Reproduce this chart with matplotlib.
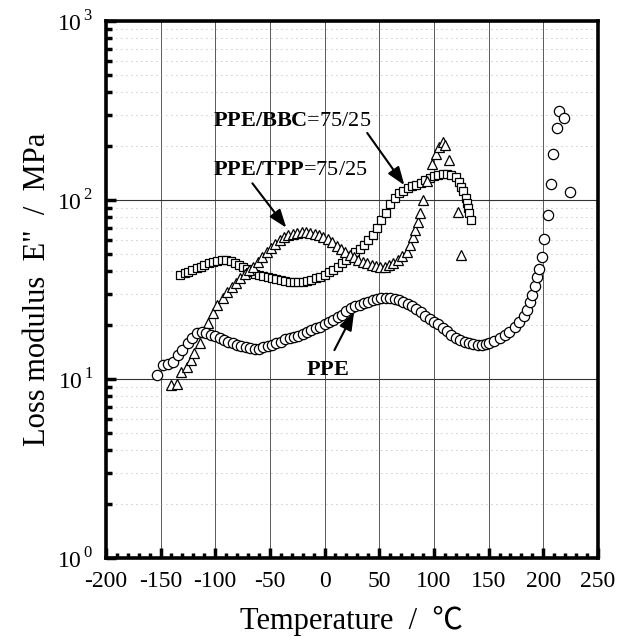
import numpy as np
import matplotlib
matplotlib.use('Agg')
import matplotlib.pyplot as plt
from matplotlib.ticker import FixedLocator, LogLocator, NullFormatter

plt.rcParams['font.family'] = ['Liberation Serif', 'Noto Sans CJK JP']
plt.rcParams['mathtext.fontset'] = 'custom'
plt.rcParams['mathtext.rm'] = 'Liberation Serif'
plt.rcParams['mathtext.bf'] = 'Liberation Serif:bold'
plt.rcParams['axes.unicode_minus'] = False

# PPE (open circles)
ppe_t = [-153, -148, -143, -139, -134, -130, -125, -121, -117, -112, -108, -104, -100,
         -96, -92, -88, -84, -80, -76, -72, -68, -64, -60, -56, -52, -48, -44, -40,
         -36, -32, -28, -24, -20, -16, -12, -8, -4, 0, 4, 8, 12, 16, 20, 24, 28, 32,
         36, 40, 44, 48, 52, 56, 60, 64, 68, 72, 76, 80, 84, 88, 92, 96, 100, 104,
         108, 112, 116, 120, 124, 128, 132, 136, 140, 144, 148, 150, 155, 160, 165,
         169, 174, 178, 182, 185, 188, 190, 192, 194, 196, 199, 201, 204, 207, 209,
         213, 214, 219, 224]
ppe_e = [10.5, 12.0, 12.2, 12.5, 13.6, 14.5, 15.9, 17.0, 18.1, 18.4, 18.0, 17.6, 17.3,
         17.0, 16.5, 16.1, 15.8, 15.5, 15.2, 15.0, 14.9, 14.8, 14.8, 15.0, 15.2, 15.5,
         15.8, 16.2, 16.7, 17.0, 17.2, 17.5, 17.9, 18.3, 18.7, 19.2, 19.6, 20.2, 20.8,
         21.4, 22.1, 22.9, 24.0, 24.8, 25.5, 26.0, 26.6, 27.1, 27.6, 28.0, 28.3, 28.4,
         28.4, 28.1, 27.6, 27.0, 26.3, 25.5, 24.5, 23.6, 22.6, 21.7, 20.8, 20.2, 19.3,
         18.5, 17.7, 17.0, 16.5, 16.1, 15.8, 15.6, 15.5, 15.5, 15.7, 15.9, 16.4, 17.0,
         17.6, 18.3, 19.6, 20.8, 22.5, 24.3, 26.8, 29.5, 33.0, 37.0, 41.0, 48.0, 60.5,
         82.0, 123, 181, 253, 314, 287, 111]

# PPE/TPP = 75/25 (open triangles)
tpp_t = [-140, -135, -131, -126, -122, -119, -114, -110, -107, -102, -98, -93, -89,
         -85, -81, -77, -73, -69, -65, -61, -57, -53, -49, -45, -41, -37, -33, -29,
         -25, -21, -17, -13, -9, -5, -1, 3, 7, 11, 15, 19, 23, 27, 31, 35, 39, 43, 47,
         51, 55, 59, 63, 67, 71, 75, 78, 81, 83, 85, 87, 90, 94, 98, 102, 105, 108,
         110, 114, 122, 125]
tpp_e = [9.3, 9.4, 10.9, 11.7, 12.8, 14.0, 15.9, 18.3, 20.6, 23.4, 25.9, 28.4, 30.6,
         32.5, 34.5, 36.5, 38.5, 40.5, 42.5, 45.0, 48.0, 51.0, 54.0, 57.0, 59.5, 62.0,
         64.0, 65.0, 65.5, 66.0, 66.0, 65.5, 64.8, 63.8, 62.5, 60.5, 58.0, 55.5, 53.0,
         51.0, 49.3, 47.8, 46.5, 45.3, 44.3, 43.5, 42.8, 42.5, 42.5, 43.2, 44.5, 46.3,
         48.5, 51.5, 56, 62, 68, 75, 85, 100, 128, 158, 180, 198, 210, 202, 168, 86, 49]

# PPE/BBC = 75/25 (open squares)
bbc_t = [-132, -128, -125, -121, -117, -113, -110, -106, -102, -98, -94, -90, -86,
         -82, -78, -75, -71, -68, -64, -60, -56, -52, -48, -44, -40, -36, -32, -28,
         -24, -20, -16, -12, -8, -4, 0, 4, 8, 12, 16, 20, 24, 28, 32, 36, 40, 44, 48,
         52, 56, 60, 64, 68, 72, 76, 80, 84, 88, 92, 96, 100, 104, 108, 112, 116, 120,
         123, 125, 127, 129, 130, 131, 132, 134]
bbc_e = [38.1, 39.0, 39.6, 40.5, 41.7, 42.5, 43.3, 44.2, 45.1, 45.8, 46.2, 46.0, 45.4,
         44.6, 43.4, 42.2, 41.0, 39.6, 38.8, 38.1, 37.6, 37.2, 36.8, 36.2, 35.7, 35.3,
         35.0, 34.8, 34.8, 35.0, 35.4, 35.9, 36.5, 37.1, 38.2, 39.5, 40.8, 42.5, 44.5,
         46.5, 48.5, 51.0, 53.5, 56.0, 59.5, 63.5, 69.5, 77.0, 85.0, 95.0, 103, 109,
         113, 116, 119, 122, 125, 129, 133, 136, 138, 139, 139, 138, 134, 126, 118,
         112, 103, 96, 90, 85, 77]

x_ticks = [-200, -150, -100, -50, 0, 50, 100, 150, 200, 250]
y_ticks = [1, 10, 100, 1000]
y_labels = ['$10^{\\,0}$', '$10^{\\,1}$', '$10^{\\,2}$', '$10^{\\,3}$']

fig = plt.figure(figsize=(6.19, 6.37), dpi=100)
ax = fig.add_axes([0.171, 0.124, 0.795, 0.843])

ax.set_yscale('log')
ax.set_xlim(-200, 250)
ax.set_ylim(1, 1000)

# grid
for t in x_ticks[1:-1]:
    ax.axvline(t, color='0.35', lw=0.7, zorder=0)
for v in [10, 100]:
    ax.axhline(v, color='0.2', lw=0.8, zorder=0)
ax.yaxis.set_minor_locator(LogLocator(base=10, subs=np.arange(2, 10)))
ax.grid(True, which='minor', axis='y', color='0.6', lw=0.6, ls=(0, (1, 5)), zorder=0)

mk = dict(mfc='white', mec='black', mew=0.9, ls='none', zorder=3)
ax.plot(bbc_t, bbc_e, marker='s', ms=6.2, **mk)
ax.plot(tpp_t, tpp_e, marker='^', ms=6.5, **mk)
ax.plot(ppe_t, ppe_e, marker='o', ms=7.4, **mk)

ax.set_xticks(x_ticks)
ax.xaxis.set_minor_locator(FixedLocator(np.arange(-200, 251, 10)))
ax.set_yticks(y_ticks)
ax.set_yticklabels(y_labels)
ax.yaxis.set_minor_formatter(NullFormatter())

ax.tick_params(which='major', direction='in', length=7, width=2.5, labelsize=17,
               top=False, right=False, pad=9)
ax.tick_params(which='minor', direction='in', length=3.5, width=2.5,
               top=False, right=False)
ax.tick_params(axis='y', which='minor', length=4.5)
for s in ax.spines.values():
    s.set_linewidth(2.6)

ax.set_xlabel('Temperature  /  ℃', fontsize=22, labelpad=10)
ax.set_ylabel('Loss modulus  E"  /  MPa', fontsize=22, labelpad=4)

# annotations
arr = dict(arrowstyle='-|>,head_length=0.55,head_width=0.2', color='black', lw=1.5,
           shrinkA=0, shrinkB=0, mutation_scale=20)
ax.text(-102, 276, r'$\mathbf{PPE/BBC}$=75/25', fontsize=16, ha='left', va='center')
ax.text(-102, 147, r'$\mathbf{PPE/TPP}$=75/25', fontsize=16, ha='left', va='center')
ax.text(3, 11.2, r'$\mathbf{PPE}$', fontsize=16, ha='center', va='center')
ax.annotate('', xy=(73, 121), xytext=(39, 237), arrowprops=arr)
ax.annotate('', xy=(-35, 70), xytext=(-66, 124), arrowprops=arr)
ax.annotate('', xy=(27, 23.7), xytext=(9, 14.5), arrowprops=arr)

fig.savefig('out.png', dpi=100)
